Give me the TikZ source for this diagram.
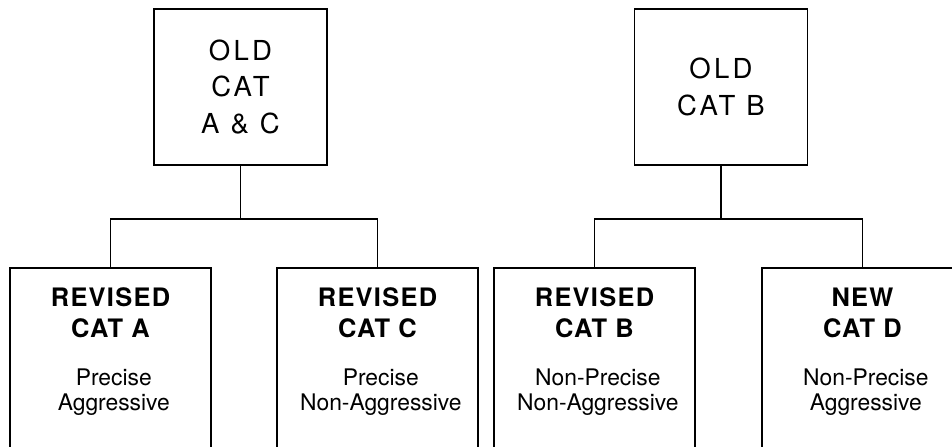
\documentclass[tikz,border=0pt]{standalone}
\usepackage{fontspec}
\setmainfont{TeX Gyre Heros}
\newfontfamily\oldcatfont[LetterSpace=12]{TeX Gyre Heros}
\newfontfamily\revcatfont[LetterSpace=5]{TeX Gyre Heros}
\usetikzlibrary{positioning}

\begin{document}
\begin{tikzpicture}[x=0.03cm, y=0.03cm, line width=1.6pt,
    oldbox/.style={draw, minimum width=5.19cm, minimum height=4.68cm, inner sep=0pt,
        align=center, font=\oldcatfont\fontsize{23.5}{31.5}\selectfont},
    catbox/.style={draw, minimum width=6.03cm, minimum height=6cm, anchor=north},
    cattitle/.style={inner sep=0pt, align=center,
        font=\revcatfont\bfseries\fontsize{21.7}{26.5}\selectfont},
    catdesc/.style={inner sep=0pt, align=center, xshift=0.1cm,
        font=\fontsize{19.5}{21.5}\selectfont}]
    \useasboundingbox (0,0) rectangle (952,446);
    \clip (0,0) rectangle (952,446);

    % old categories
    \node[oldbox] (oldac) at (240.5,359) {OLD\\CAT\\A \& C};
    \node[oldbox] (oldb) at (721,359) {OLD\\CAT B};

    % revised and new categories
    \foreach \n/\x/\t/\d in {reva/110.5/{REVISED\\CAT A}/{Precise\\Aggressive},
                             revc/377.5/{REVISED\\CAT C}/{Precise\\Non-Aggressive},
                             revb/594.5/{REVISED\\CAT B}/{Non-Precise\\Non-Aggressive},
                             newd/862.5/{NEW\\CAT D}/{Non-Precise\\Aggressive}} {
        \node[catbox] (\n) at (\x,179) {};
        \node[cattitle, below=0.59cm of \n.north] (t\n) {\t};
        \node[catdesc, below=0.88cm of t\n] (d\n) {\d};
    }

    % tree connectors
    \draw (oldac.south) -- ++(0,-53) coordinate (jac);
    \draw (reva.north) |- (jac) -| (revc.north);
    \draw (oldb.south) -- ++(0,-53) coordinate (jb);
    \draw (revb.north) |- (jb) -| (newd.north);
\end{tikzpicture}
\end{document}
